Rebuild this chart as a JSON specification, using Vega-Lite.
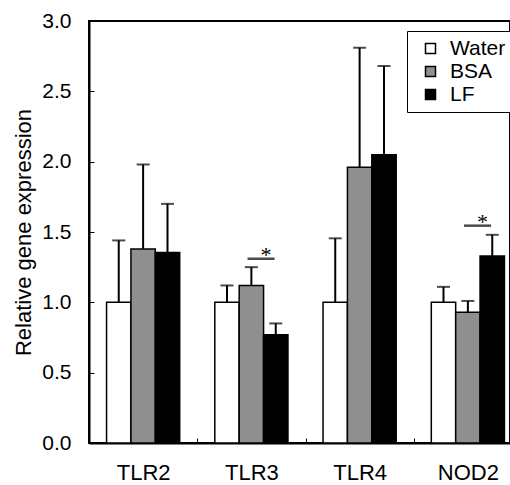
{
  "$schema": "https://vega.github.io/schema/vega-lite/v6.json",
  "width": 421,
  "height": 422,
  "autosize": {"type": "none"},
  "padding": {"left": 89, "top": 21, "right": 0, "bottom": 42},
  "background": "white",
  "config": {
    "view": {"stroke": "black", "strokeWidth": 2},
    "font": "Liberation Sans"
  },
  "datasets": {
    "bars": [
      {"gene": "TLR2", "group": "Water", "value": 1.0, "err": 1.44},
      {"gene": "TLR2", "group": "BSA", "value": 1.38, "err": 1.98},
      {"gene": "TLR2", "group": "LF", "value": 1.355, "err": 1.7},
      {"gene": "TLR3", "group": "Water", "value": 1.0, "err": 1.12},
      {"gene": "TLR3", "group": "BSA", "value": 1.12, "err": 1.25},
      {"gene": "TLR3", "group": "LF", "value": 0.77, "err": 0.85},
      {"gene": "TLR4", "group": "Water", "value": 1.0, "err": 1.455},
      {"gene": "TLR4", "group": "BSA", "value": 1.96, "err": 2.81},
      {"gene": "TLR4", "group": "LF", "value": 2.05, "err": 2.68},
      {"gene": "NOD2", "group": "Water", "value": 1.0, "err": 1.11},
      {"gene": "NOD2", "group": "BSA", "value": 0.93, "err": 1.01},
      {"gene": "NOD2", "group": "LF", "value": 1.33, "err": 1.48}
    ],
    "sig": [
      {"gene": "TLR3", "pair": "BSA-LF", "level": 1.31, "label": "*"},
      {"gene": "NOD2", "pair": "BSA-LF", "level": 1.545, "label": "*"}
    ]
  },
  "resolve": {"scale": {"xOffset": "independent"}},
  "layer": [
    {
      "data": {"name": "bars"},
      "mark": {"type": "bar", "stroke": "black", "strokeWidth": 1.5},
      "encoding": {
        "x": {
          "field": "gene", "type": "nominal",
          "sort": ["TLR2", "TLR3", "TLR4", "NOD2"],
          "scale": {"range": [0, 433], "paddingInner": 0, "paddingOuter": 0},
          "axis": {
            "title": null, "labelAngle": 0, "labelFontSize": 22, "labelColor": "black",
            "tickBand": "extent", "tickSize": -5, "tickWidth": 1, "tickColor": "black",
            "labelPadding": 24, "domainColor": "black", "domainWidth": 2
          }
        },
        "xOffset": {
          "field": "group", "type": "nominal",
          "scale": {"domain": ["Water", "BSA", "LF"], "paddingOuter": 0.72, "paddingInner": 0}
        },
        "y": {
          "field": "value", "type": "quantitative",
          "scale": {"domain": [0, 3], "nice": false},
          "axis": {
            "values": [0, 0.5, 1, 1.5, 2, 2.5, 3], "format": ".1f", "grid": false,
            "labelFontSize": 21, "labelColor": "black",
            "tickSize": -5, "tickWidth": 1, "tickColor": "black", "labelPadding": 23,
            "domainColor": "black", "domainWidth": 2,
            "title": "Relative gene expression", "titleFontSize": 22, "titleFontWeight": "normal",
            "titleColor": "black", "titlePadding": 6
          }
        },
        "fill": {
          "field": "group", "type": "nominal",
          "scale": {"domain": ["Water", "BSA", "LF"], "range": ["white", "#8f8f8f", "black"]},
          "legend": {
            "orient": "none", "legendX": 318, "legendY": 10, "title": null,
            "symbolType": "square", "symbolSize": 100, "symbolStrokeColor": "black", "symbolStrokeWidth": 1.5,
            "labelFontSize": 21, "labelColor": "black", "labelOffset": 9,
            "padding": 7, "rowPadding": 1, "symbolOffset": 6,
            "strokeColor": "black", "fillColor": "white"
          }
        }
      }
    },
    {
      "data": {"name": "bars"},
      "mark": {"type": "rule", "color": "black", "strokeWidth": 2},
      "encoding": {
        "x": {"field": "gene", "type": "nominal", "sort": ["TLR2", "TLR3", "TLR4", "NOD2"]},
        "xOffset": {
          "field": "group", "type": "nominal",
          "scale": {"domain": ["Water", "BSA", "LF"], "paddingOuter": 0.72, "paddingInner": 0}
        },
        "y": {"field": "value", "type": "quantitative"},
        "y2": {"field": "err"}
      }
    },
    {
      "data": {"name": "bars"},
      "mark": {"type": "tick", "color": "black", "size": 13, "thickness": 2, "orient": "horizontal"},
      "encoding": {
        "x": {"field": "gene", "type": "nominal", "sort": ["TLR2", "TLR3", "TLR4", "NOD2"]},
        "xOffset": {
          "field": "group", "type": "nominal",
          "scale": {"domain": ["Water", "BSA", "LF"], "paddingOuter": 0.72, "paddingInner": 0}
        },
        "y": {"field": "err", "type": "quantitative"}
      }
    },
    {
      "data": {"name": "sig"},
      "mark": {"type": "tick", "color": "black", "size": 27, "thickness": 2.5, "orient": "horizontal"},
      "encoding": {
        "x": {"field": "gene", "type": "nominal", "sort": ["TLR2", "TLR3", "TLR4", "NOD2"]},
        "xOffset": {
          "field": "pair", "type": "nominal",
          "scale": {"domain": ["BSA-LF"], "paddingOuter": 1.5, "paddingInner": 0, "align": 0.634}
        },
        "y": {"field": "level", "type": "quantitative"}
      }
    },
    {
      "data": {"name": "sig"},
      "mark": {"type": "text", "color": "black", "font": "Liberation Serif", "fontSize": 22, "baseline": "alphabetic", "dy": 3},
      "encoding": {
        "x": {"field": "gene", "type": "nominal", "sort": ["TLR2", "TLR3", "TLR4", "NOD2"]},
        "xOffset": {
          "field": "pair", "type": "nominal",
          "scale": {"domain": ["BSA-LF"], "paddingOuter": 1.5, "paddingInner": 0, "align": 0.634}
        },
        "y": {"field": "level", "type": "quantitative"},
        "text": {"field": "label"}
      }
    }
  ]
}
